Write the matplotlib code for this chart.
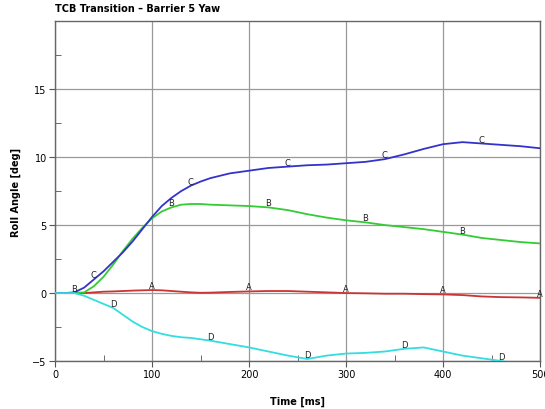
import numpy as np
import matplotlib
matplotlib.use("Agg")
import matplotlib.pyplot as plt
from matplotlib.ticker import MultipleLocator

t = [0, 10, 20, 30, 40, 50, 60, 70, 80, 90, 100, 110, 120, 130, 140, 150, 160, 180,
     200, 220, 240, 260, 280, 300, 320, 340, 360, 380, 400, 420, 440, 460, 480, 500]
A = [0, 0, 0, 0.0, 0.05, 0.1, 0.12, 0.15, 0.18, 0.2, 0.22, 0.2, 0.15, 0.1, 0.05, 0.02, 0.03, 0.08,
     0.12, 0.15, 0.15, 0.1, 0.05, 0.0, -0.02, -0.05, -0.05, -0.08, -0.1, -0.15, -0.25, -0.3, -0.32, -0.35]
B = [0, 0, 0, 0.05, 0.5, 1.2, 2.1, 3.1, 4.0, 4.8, 5.5, 6.0, 6.3, 6.5, 6.55, 6.55, 6.5, 6.45,
     6.4, 6.3, 6.1, 5.8, 5.55, 5.35, 5.2, 5.0, 4.85, 4.7, 4.5, 4.3, 4.05, 3.9, 3.75, 3.65]
C = [0, 0, 0.05, 0.4, 1.0, 1.6, 2.3, 3.0, 3.8, 4.7, 5.6, 6.4, 7.0, 7.5, 7.9, 8.2, 8.45, 8.8,
     9.0, 9.2, 9.3, 9.4, 9.45, 9.55, 9.65, 9.85, 10.2, 10.6, 10.95, 11.1, 11.0, 10.9, 10.8, 10.65]
D = [0, 0, 0, -0.2, -0.5, -0.8, -1.1, -1.6, -2.1, -2.5, -2.8, -3.0, -3.15, -3.25, -3.3, -3.4, -3.5, -3.75,
     -4.0, -4.3, -4.6, -4.85, -4.6, -4.45, -4.4, -4.3, -4.1, -4.0, -4.3, -4.6, -4.8, -5.0, -5.3, -5.6]

label_times = {"A": [100, 200, 300, 400, 500],
               "B": [20, 120, 220, 320, 420],
               "C": [40, 140, 240, 340, 440],
               "D": [60, 160, 260, 360, 460]}

series = [("A", A, "#cc3333"), ("B", B, "#33cc33"), ("C", C, "#3333cc"), ("D", D, "#33dde0")]

fig = plt.figure(figsize=(5.45, 4.1), dpi=100)
ax = fig.add_axes([0.101, 0.117, 0.89, 0.829])

for name, vals, col in series:
    ax.plot(t, vals, color=col, lw=1.3, zorder=3)
    for lt in label_times[name]:
        v = vals[t.index(lt)]
        ax.text(lt, v, name, fontsize=6, color="#222222", ha="center", va="bottom", zorder=4)

ax.set_xlim(0, 500)
ax.set_ylim(-5, 20)
ax.set_xticks([0, 100, 200, 300, 400, 500])
ax.set_yticks([-5, 0, 5, 10, 15])
ax.xaxis.set_minor_locator(MultipleLocator(50))
ax.yaxis.set_minor_locator(MultipleLocator(2.5))
ax.tick_params(which="major", direction="out", length=4, labelsize=7, color="#555555", pad=2)
ax.tick_params(which="minor", direction="in", length=4, color="#555555")
ax.grid(True, which="major", color="#999999", lw=0.9)
for s in ax.spines.values():
    s.set_color("#666666")
    s.set_linewidth(1.0)

ax.set_xlabel("Time [ms]", fontsize=7, fontweight="bold", labelpad=12)
ax.set_ylabel("Roll Angle [deg]", fontsize=7, fontweight="bold", labelpad=8)
fig.text(0.101, 0.965, "TCB Transition \u2013 Barrier 5 Yaw", fontsize=7, fontweight="bold", ha="left", va="bottom")

fig.savefig("out.png", dpi=100)
